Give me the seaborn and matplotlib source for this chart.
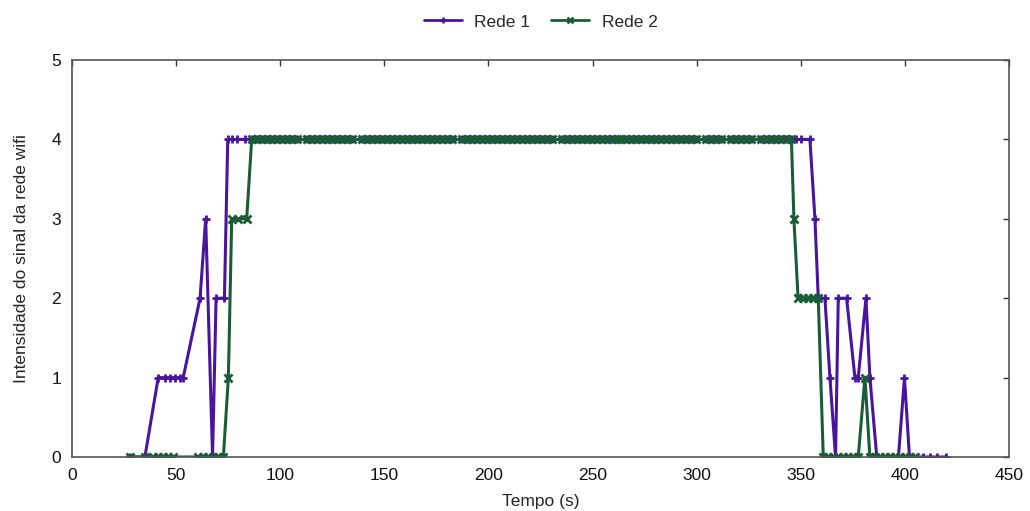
import seaborn as sns
import matplotlib
matplotlib.use("Agg")
import matplotlib.pyplot as plt
import pandas as pd

# Amostras no patamar (sinal = 4)
PLATEAU_T = [86.3, 88.7, 91.1, 93.5, 95.9, 98.3, 100.7, 103.1, 105.5, 107.9,
             112.7, 115.1, 117.5, 119.9, 122.3, 124.7, 127.1, 129.5, 131.9, 134.3,
             139.1, 141.5, 143.9, 146.3, 148.7, 151.1, 153.5, 155.9, 158.3, 160.7,
             163.1, 165.5, 167.9, 170.3, 172.7, 175.1, 177.5, 179.9, 182.3,
             187.1, 189.5, 191.9, 194.3, 196.7, 199.1, 201.5, 203.9, 206.3, 208.7,
             211.1, 213.5, 215.9, 218.3, 220.7, 223.1, 225.5, 227.9, 230.3,
             235.1, 237.5, 239.9, 242.3, 244.7, 247.1, 249.5, 251.9, 254.3, 256.7,
             259.1, 261.5, 263.9, 266.3, 268.7, 271.1, 273.5, 275.9, 278.3, 280.7,
             283.1, 285.5, 287.9, 290.3, 292.7, 295.1, 297.5, 299.9,
             304.7, 307.1, 309.5, 311.9, 316.7, 319.1, 321.5, 323.9, 326.3,
             331.1, 333.5, 335.9, 338.3, 340.7, 343.1, 345.5]

# Rede 1
r1_start_t = [27.8, 35.0, 41.4, 44.6, 47.0, 49.4, 51.9, 53.4, 61.5, 64.2, 67.5, 69.2, 73.2,
              74.8, 76.7, 79.1, 83.1]
r1_start_v = [0, 0, 1, 1, 1, 1, 1, 1, 2, 3, 0, 2, 2,
              4, 4, 4, 4]
r1_end_t = [347.9, 350.3, 354.4, 356.8, 358.4, 361.6, 364.0, 366.7, 368.0, 372.0,
            376.0, 377.6, 381.3, 383.2, 386.5, 389.0, 391.6, 394.2, 396.9, 399.8,
            402.2, 405.7, 408.9, 412.1, 415.4, 419.7]
r1_end_v = [4, 4, 4, 3, 2, 2, 1, 0, 2, 2,
            1, 1, 2, 1, 0, 0, 0, 0, 0, 1,
            0, 0, 0, 0, 0, 0]

# Rede 2
r2_start_t = [27.8, 35.0, 39.0, 41.4, 43.8, 46.2, 48.6,
              60.7, 63.1, 65.5, 67.9, 70.3, 72.7, 75.1, 76.7, 79.9, 83.9]
r2_start_v = [0, 0, 0, 0, 0, 0, 0,
              0, 0, 0, 0, 0, 0, 1, 3, 3, 3]
r2_end_t = [346.7, 348.7, 351.2, 353.6, 356.0, 358.4, 360.8, 363.2, 365.6, 368.0,
            370.4, 372.8, 375.2, 377.6, 380.8, 383.2, 385.6, 388.0, 390.4, 392.8,
            395.2, 397.6, 400.0, 402.5, 404.9]
r2_end_v = [3, 2, 2, 2, 2, 2, 0, 0, 0, 0,
            0, 0, 0, 0, 1, 0, 0, 0, 0, 0,
            0, 0, 0, 0, 0]

x_ticks = [0, 50, 100, 150, 200, 250, 300, 350, 400, 450]
y_ticks = [0, 1, 2, 3, 4, 5]

cores = {"Rede 1": "#4a149e", "Rede 2": "#1b5c38"}

t1 = r1_start_t + PLATEAU_T + r1_end_t
v1 = r1_start_v + [4] * len(PLATEAU_T) + r1_end_v
t2 = r2_start_t + PLATEAU_T + r2_end_t
v2 = r2_start_v + [4] * len(PLATEAU_T) + r2_end_v

df = pd.DataFrame({
    "Tempo": t1 + t2,
    "Sinal": v1 + v2,
    "Rede": ["Rede 1"] * len(t1) + ["Rede 2"] * len(t2),
})

sns.set_theme(style="white")
plt.rcParams["font.family"] = ["Liberation Sans", "DejaVu Sans"]

fig = plt.figure(figsize=(10.30, 5.11), dpi=100)
ax = fig.add_axes([72 / 1030, 1 - 457 / 511, (1009 - 72) / 1030, (457 - 60) / 511])

sns.lineplot(data=df, x="Tempo", y="Sinal", hue="Rede", style="Rede",
             palette=cores, markers={"Rede 1": "+", "Rede 2": "x"}, dashes=False,
             estimator=None, sort=True, linewidth=2.2, markersize=6,
             markeredgewidth=2, ax=ax, legend=False)

# seaborn pinta a borda dos marcadores de branco; usar a cor da linha
for ln in ax.lines:
    ln.set_markeredgecolor(ln.get_color())

ax.set_xlim(0, 450)
ax.set_ylim(0, 5)
ax.set_xticks(x_ticks)
ax.set_yticks(y_ticks)
ax.tick_params(direction="in", length=4, width=1, colors="#333333",
               labelcolor="#111111", labelsize=12.5, top=True, right=True)
ax.tick_params(axis="x", pad=8)
ax.tick_params(axis="y", pad=8)
for s in ax.spines.values():
    s.set_color("#555555")
    s.set_linewidth(1.2)

ax.set_xlabel("Tempo (s)", fontsize=12.5, labelpad=8)
ax.set_ylabel("Intensidade do sinal da rede wifi", fontsize=12.5, labelpad=16)

# legenda no topo
handles = [plt.Line2D([], [], color=cores["Rede 1"], lw=2, marker="+", ms=5, mew=1.8),
           plt.Line2D([], [], color=cores["Rede 2"], lw=2, marker="x", ms=5, mew=1.8)]
fig.legend(handles, ["Rede 1", "Rede 2"], loc="center", bbox_to_anchor=(0.525, 0.957),
           ncol=2, frameon=False, fontsize=12.5, handlelength=2.2, columnspacing=1.2,
           handletextpad=0.7)

fig.savefig("out.png", dpi=100)
